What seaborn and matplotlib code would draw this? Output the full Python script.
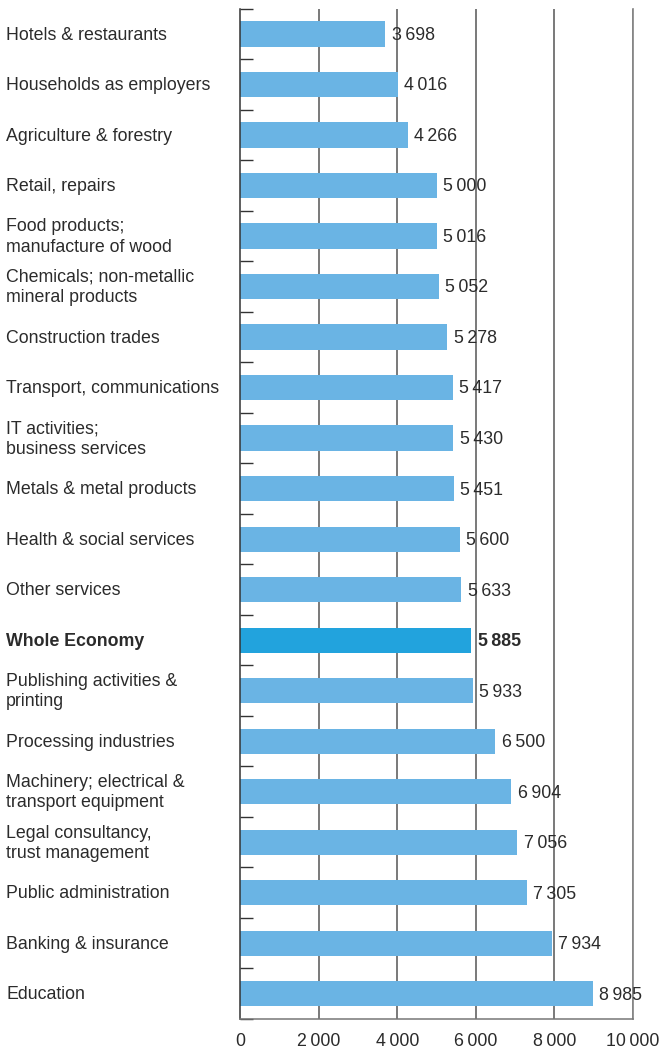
import matplotlib
matplotlib.use("Agg")
import matplotlib.pyplot as plt
import matplotlib.transforms as mtransforms
import seaborn as sns
import pandas as pd
import numpy as np

# Average monthly wage by sector
categories = [
    "Hotels & restaurants",
    "Households as employers",
    "Agriculture & forestry",
    "Retail, repairs",
    "Food products;\nmanufacture of wood",
    "Chemicals; non-metallic\nmineral products",
    "Construction trades",
    "Transport, communications",
    "IT activities;\nbusiness services",
    "Metals & metal products",
    "Health & social services",
    "Other services",
    "Whole Economy",
    "Publishing activities &\nprinting",
    "Processing industries",
    "Machinery; electrical &\ntransport equipment",
    "Legal consultancy,\ntrust management",
    "Public administration",
    "Banking & insurance",
    "Education",
]
values = [3698, 4016, 4266, 5000, 5016, 5052, 5278, 5417, 5430, 5451,
          5600, 5633, 5885, 5933, 6500, 6904, 7056, 7305, 7934, 8985]
highlight = "Whole Economy"
x_ticks = [0, 2000, 4000, 6000, 8000, 10000]

LIGHT = "#6AB4E4"
DARK = "#22A3DD"
TEXT = "#2b2b2b"
GRID = "#555555"
FS = 12.8


def fmt(n):
    return f"{n:,}".replace(",", "\u2009")


df = pd.DataFrame({"sector": categories, "value": values})
df["group"] = np.where(df["sector"] == highlight, "total", "sector")

sns.set_theme(style="white")
plt.rcParams["font.family"] = ["Liberation Sans", "DejaVu Sans"]

fig = plt.figure(figsize=(6.65, 10.52), dpi=100)
ax = fig.add_axes([240 / 665, 33 / 1052, (633 - 240) / 665, (1019 - 8.75) / 1052])

sns.barplot(data=df, y="sector", x="value", hue="group",
            palette={"sector": LIGHT, "total": DARK}, orient="h",
            width=0.5, dodge=False, legend=False, ax=ax, saturation=1,
            linewidth=0, edgecolor="none")

ax.set_xlim(0, 10000)
ax.set_ylim(len(categories) - 0.5, -0.5)
ax.set_xlabel("")
ax.set_ylabel("")

# vertical gridlines
ax.set_xticks(x_ticks)
ax.set_xticklabels([fmt(t) for t in x_ticks], fontsize=FS, color=TEXT)
ax.tick_params(axis="x", length=0, pad=10)
for t in x_ticks[1:]:
    ax.axvline(t, color=GRID, lw=1.1, zorder=0)

# category boundary ticks on the left axis
ax.set_yticks(np.arange(-0.5, len(categories), 1.0), minor=True)
ax.set_yticks([])
ax.tick_params(axis="y", which="minor", left=True, direction="in",
               length=9, width=1, color="#333333")

ax.spines["top"].set_visible(False)
ax.spines["left"].set_color("#333333")
ax.spines["left"].set_linewidth(1.1)
ax.spines["bottom"].set_color("#777777")
ax.spines["right"].set_color("#888888")
ax.spines["bottom"].set_linewidth(1.1)

# category labels, left aligned at the figure edge
trans = mtransforms.blended_transform_factory(fig.transFigure, ax.transData)
for i, name in enumerate(categories):
    bold = name == highlight
    ax.text(6 / 665, i + 0.02, name, transform=trans, ha="left", va="center",
            fontsize=FS, color=TEXT, fontweight="bold" if bold else "normal",
            linespacing=1.25)

# value labels
for i, v in enumerate(values):
    bold = categories[i] == highlight
    ax.annotate(fmt(v), (v, i), xytext=(4.5, -1),
                textcoords="offset points", ha="left", va="center",
                fontsize=FS, color=TEXT, fontweight="bold" if bold else "normal")

fig.savefig("out.png", dpi=100)
